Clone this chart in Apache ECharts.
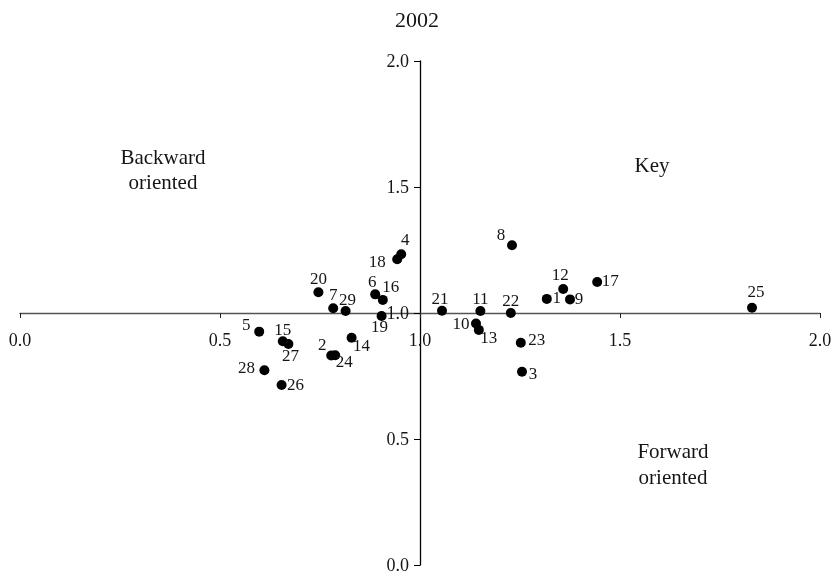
<!DOCTYPE html>
<html>
<head>
<meta charset="utf-8">
<script src="https://cdn.jsdelivr.net/npm/echarts@6/dist/echarts.min.js"></script>
<style>
  html, body { margin: 0; padding: 0; background: #fff; }
  #chart { width: 834px; height: 581px; }
</style>
</head>
<body>
<div id="chart"></div>
<script>
// Firm positions for 2002 (axes cross at 1.0, 1.0)
const ids = ['1','2','3','4','5','6','7','8','9','10','11','12','13','14','15','16','17','18','19','20','21','22','23','24','25','26','27','28','29'];
const xValues = [1.317, 0.778, 1.255, 0.953, 0.598, 0.888, 0.783, 1.230, 1.375, 1.140, 1.151, 1.358, 1.147, 0.829, 0.657, 0.907, 1.443, 0.943, 0.904, 0.746, 1.055, 1.227, 1.252, 0.788, 1.830, 0.654, 0.671, 0.611, 0.814];
const yValues = [1.056, 0.831, 0.767, 1.233, 0.926, 1.074, 1.019, 1.269, 1.054, 0.958, 1.008, 1.095, 0.933, 0.902, 0.888, 1.052, 1.123, 1.213, 0.988, 1.082, 1.009, 1.000, 0.882, 0.832, 1.021, 0.714, 0.877, 0.773, 1.008];
const axisTicks = [0.0, 0.5, 1.0, 1.5, 2.0];
const chartTitle = '2002';
const quadrantNotes = ['Backward\noriented', 'Key', 'Forward\noriented'];

// Point-label offsets (px) from each marker centre
const labelOffsets = {
  '1': [10, 0], '2': [-9, -10], '3': [11, 3], '4': [4, -14], '5': [-13, -6],
  '6': [-3, -12], '7': [0, -13], '8': [-11, -10], '9': [9, 0], '10': [-15, 1],
  '11': [0, -11], '12': [-3, -14], '13': [10, 9], '14': [10, 9], '15': [0, -11],
  '16': [8, -12], '17': [13, 0], '18': [-20, 3], '19': [-2, 12], '20': [0, -13],
  '21': [-2, -11], '22': [0, -11], '23': [16, -2], '24': [9, 7], '25': [4, -15],
  '26': [14, 0], '27': [2, 13], '28': [-18, -2], '29': [2, -10]
};

// Both axes cross at 1.0: values are plotted relative to that point so the
// axis lines (onZero) run through the middle of the plot.
const CENTER = 1.0;
const FONT = '"Liberation Serif", "DejaVu Serif", serif';
const TEXT = '#151515';

const points = ids.map((id, i) => ({
  name: id,
  value: [xValues[i] - CENTER, yValues[i] - CENTER]
}));

// Tick labels placed beside the crossing axis lines
const xTickLabels = axisTicks.map(t => ({ name: t.toFixed(1), value: [t - CENTER, 0] }));
const yTickLabels = axisTicks.map(t => ({ name: t.toFixed(1), value: [0, t - CENTER] }));

const tickLabelSeries = (data, label) => ({
  type: 'scatter',
  symbolSize: 0,
  silent: true,
  itemStyle: { opacity: 1, color: TEXT },
  data,
  label: Object.assign({
    show: true,
    position: 'inside',
    formatter: p => p.name,
    verticalAlign: 'middle',
    fontFamily: FONT,
    fontSize: 18,
    color: TEXT,
    opacity: 1
  }, label)
});

const chart = echarts.init(document.getElementById('chart'), null, { renderer: 'canvas' });
chart.setOption({
  animation: false,
  backgroundColor: '#ffffff',
  title: {
    text: chartTitle,
    left: 'center',
    top: 5,
    textStyle: { fontFamily: FONT, fontSize: 22, fontWeight: 'normal', color: TEXT }
  },
  grid: { left: 20, right: 14, top: 61, bottom: 16, containLabel: false, outerBoundsMode: 'none' },
  xAxis: {
    type: 'value',
    min: axisTicks[0] - CENTER,
    max: axisTicks[axisTicks.length - 1] - CENTER,
    interval: 0.5,
    axisLine: { show: true, onZero: true, lineStyle: { color: '#555', width: 1.3 } },
    axisTick: { show: true, length: 5, lineStyle: { color: '#222', width: 1 } },
    axisLabel: { show: false },
    splitLine: { show: false }
  },
  yAxis: {
    type: 'value',
    min: axisTicks[0] - CENTER,
    max: axisTicks[axisTicks.length - 1] - CENTER,
    interval: 0.5,
    axisLine: { show: true, onZero: true, lineStyle: { color: '#000', width: 1.3 } },
    axisTick: { show: true, length: 6, lineStyle: { color: '#000', width: 1 } },
    axisLabel: { show: false },
    splitLine: { show: false }
  },
  graphic: [
    { type: 'text', x: 163, y: 171, style: { text: quadrantNotes[0], font: '21px ' + FONT, fill: TEXT, align: 'center', verticalAlign: 'middle', lineHeight: 25 } },
    { type: 'text', x: 652, y: 166, style: { text: quadrantNotes[1], font: '21px ' + FONT, fill: TEXT, align: 'center', verticalAlign: 'middle' } },
    { type: 'text', x: 673, y: 465, style: { text: quadrantNotes[2], font: '21px ' + FONT, fill: TEXT, align: 'center', verticalAlign: 'middle', lineHeight: 26 } }
  ],
  series: [
    {
      type: 'scatter',
      symbol: 'circle',
      symbolSize: 10,
      itemStyle: { color: '#000', opacity: 1 },
      data: points,
      label: {
        show: true,
        position: 'inside',
        formatter: p => p.name,
        align: 'center',
        verticalAlign: 'middle',
        fontFamily: FONT,
        fontSize: 17,
        color: TEXT
      },
      labelLayout: p => {
        const o = labelOffsets[ids[p.dataIndex]] || [0, -12];
        return { dx: o[0], dy: o[1], hideOverlap: false };
      }
    },
    tickLabelSeries(xTickLabels, { align: 'center', offset: [0, 28] }),
    tickLabelSeries(yTickLabels, { align: 'right', offset: [-11, 1] })
  ]
});
</script>
</body>
</html>
